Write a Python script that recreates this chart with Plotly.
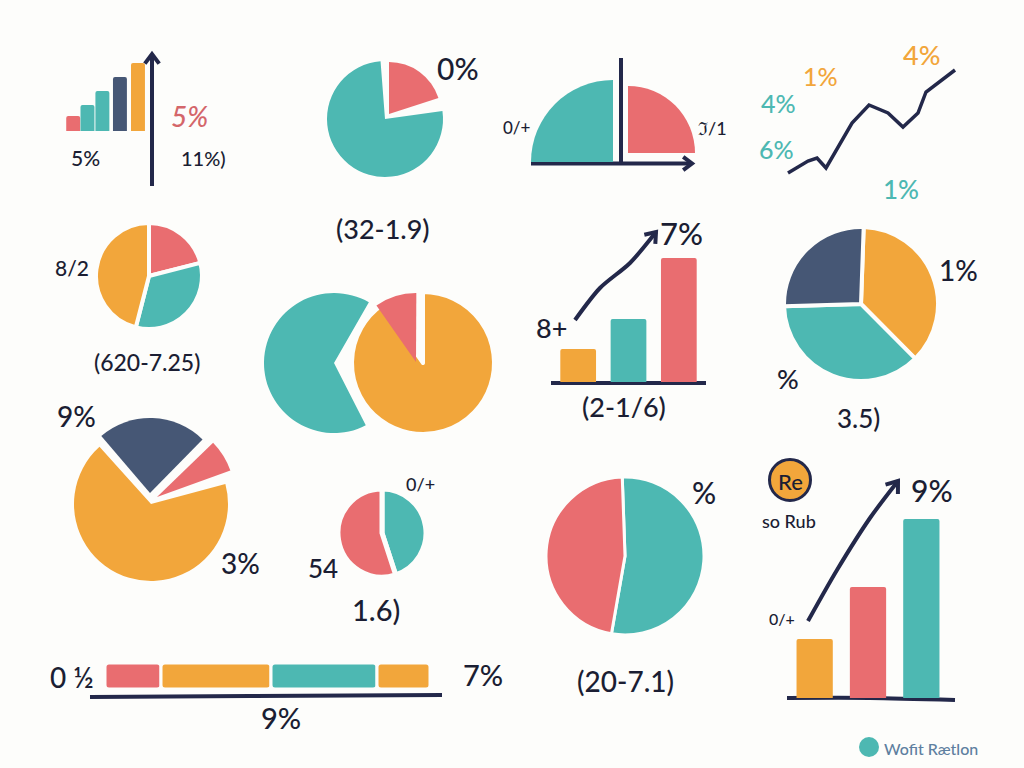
import math
import plotly.graph_objects as go

CORAL, TEAL, ORANGE, NAVY, INK = "#E96D70", "#4DB8B2", "#F2A63B", "#465775", "#23284A"
BG = "#FDFDFB"
TEXT = "#1B1E33"
W, H = 1024, 768

# chart values
BARS_A = [15, 26, 40, 54, 68]
BARS_A_SLOTS = [0, 0.87, 1.78, 2.85, 3.95]
BARS_B = [33, 63, 124]
BARS_C = [59, 111, 179]
STRIP = [56, 110, 106, 53]
LINE_X = [8, 28, 37, 46, 72, 89, 108, 123, 138, 146, 175]
LINE_Y = [7, 19, 22, 12, 57, 75, 67, 53, 67, 88, 110]
PIE_E = [21, 33, 46]
PIE_H = [37, 37, 26]
PIE_J = [45, 55]
PIE_K = [53.3, 46.7]
SHARE_CORAL_B, SHARE_TEAL_B = 20, 76
SHARE_TEAL_C, SHARE_CORAL_C = 25, 25
SHARE_TEAL_F, SHARE_ORANGE_F, SHARE_CORAL_F = 65.8, 90.3, 9.8
SHARE_ORANGE_I, SHARE_NAVY_I, SHARE_CORAL_I = 67.5, 23.6, 6.7

fig = go.Figure()
axis_n = [1]


def fx(px):
    return px / W


def fy(px):
    return 1 - px / H


def new_axes(x0, x1, ytop, ybot, xr=None, yr=None):
    n = axis_n[0]
    axis_n[0] += 1
    sfx = "" if n == 1 else str(n)
    common = dict(visible=False, fixedrange=True, showgrid=False, zeroline=False)
    xa = dict(domain=[fx(x0), fx(x1)], anchor="y" + sfx, **common)
    ya = dict(domain=[fy(ybot), fy(ytop)], anchor="x" + sfx, **common)
    if xr:
        xa["range"] = xr
    if yr:
        ya["range"] = yr
    fig.layout["xaxis" + sfx] = xa
    fig.layout["yaxis" + sfx] = ya
    return "x" + sfx, "y" + sfx


def bars(values, colors, x0, x1, ytop, ybot, gap, slots=None):
    xa, ya = new_axes(x0, x1, ytop, ybot, yr=[0, max(values)])
    xs = slots if slots else list(range(len(values)))
    fig.add_trace(go.Bar(x=xs, y=values, marker=dict(color=colors, cornerradius=2, line_width=0),
                         width=1 - gap, xaxis=xa, yaxis=ya, hoverinfo="skip"))
    fig.layout[xa.replace("x", "xaxis")]["range"] = [-0.5, len(values) - 0.5]


def pie(values, colors, cx, cy, r, rotation=0, border=4):
    fig.add_trace(go.Pie(values=values, marker=dict(colors=colors, line=dict(color=BG, width=border)), sort=False,
                         direction="clockwise", rotation=rotation, textinfo="none", hoverinfo="skip",
                         showlegend=False, domain=dict(x=[fx(cx - r), fx(cx + r)], y=[fy(cy + r), fy(cy - r)])))


def wedge(share, color, cx, cy, r, start, border=0):
    fig.add_trace(go.Pie(values=[share, 100 - share],
                         marker=dict(colors=[color, "rgba(0,0,0,0)"], line=dict(color=BG, width=[border, 0])),
                         sort=False, direction="clockwise", rotation=start, textinfo="none", hoverinfo="skip",
                         showlegend=False, domain=dict(x=[fx(cx - r), fx(cx + r)], y=[fy(cy + r), fy(cy - r)])))


annotations = []


def label(text, x, y, size, color=TEXT):
    annotations.append(dict(text=text, x=fx(x), y=fy(y), xref="paper", yref="paper", showarrow=False,
                            xanchor="center", yanchor="middle",
                            font=dict(family="Lato", size=size, color=color, weight=500)))


# overlay axes in page pixels for arrows and rules
ox, oy = new_axes(0, W, 0, H, xr=[0, W], yr=[H, 0])


def stroke(xs, ys, width=4, head=0):
    fig.add_trace(go.Scatter(x=xs, y=ys, mode="lines", xaxis=ox, yaxis=oy,
                             line=dict(color=INK, width=width, shape="spline", smoothing=0.8), hoverinfo="skip"))
    if head:
        ang = math.atan2(ys[-1] - ys[-2], xs[-1] - xs[-2])
        hx, hy = [], []
        for d in (2.5, 0, -2.5):
            a = ang + d
            k = head if d else 0
            hx.append(xs[-1] + k * math.cos(a))
            hy.append(ys[-1] + k * math.sin(a))
        fig.add_trace(go.Scatter(x=hx, y=hy, mode="lines", xaxis=ox, yaxis=oy,
                                 line=dict(color=INK, width=width), hoverinfo="skip"))


# charts
bars(BARS_A, [CORAL, TEAL, TEAL, NAVY, ORANGE], 65, 147, 63, 131, 0.15, slots=BARS_A_SLOTS)
bars(BARS_B, [ORANGE, TEAL, CORAL], 553, 704, 258, 382, 0.29)
bars(BARS_C, [ORANGE, CORAL, TEAL], 788, 948, 519, 698, 0.32)

xa, ya = new_axes(780, 960, 60, 180, xr=[0, 180], yr=[0, 120])
fig.add_trace(go.Scatter(x=LINE_X, y=LINE_Y, mode="lines", line=dict(color=INK, width=3.5), xaxis=xa, yaxis=ya,
                         hoverinfo="skip"))

xa, ya = new_axes(105, 430, 663, 689, xr=[0, sum(STRIP)], yr=[-0.5, 0.5])
left = 0
for v, c in zip(STRIP, [CORAL, ORANGE, TEAL, ORANGE]):
    fig.add_trace(go.Bar(x=[v], y=[0], base=left, orientation="h", width=1, xaxis=xa, yaxis=ya, hoverinfo="skip",
                         marker=dict(color=c, cornerradius=4, line=dict(color=BG, width=3))))
    left += v

wedge(SHARE_CORAL_B, CORAL, 389, 114, 52, 0)
wedge(SHARE_TEAL_B, TEAL, 385, 119, 58, 82)
wedge(SHARE_TEAL_C, TEAL, 613, 162, 82, 270)
wedge(SHARE_CORAL_C, CORAL, 628, 153, 67, 0)
pie(PIE_E, [CORAL, TEAL, ORANGE], 149, 276, 53)
wedge(SHARE_TEAL_F, TEAL, 334, 363, 70, 153)
wedge(SHARE_ORANGE_F, ORANGE, 423, 363, 71, 0, border=4)
wedge(SHARE_CORAL_F, CORAL, 416, 362, 69, 325)
pie(PIE_H, [ORANGE, TEAL, NAVY], 861, 304, 77, rotation=2)
wedge(SHARE_ORANGE_I, ORANGE, 151, 504, 77, 75)
wedge(SHARE_NAVY_I, NAVY, 150, 493, 75, 319.5)
wedge(SHARE_CORAL_I, CORAL, 157, 497, 78, 46)
pie(PIE_J, [TEAL, CORAL], 382, 533, 44, border=5)
pie(PIE_K, [TEAL, CORAL], 625, 556, 79, rotation=358, border=3)

# rules and arrows
stroke([152, 152], [186, 54], head=12)
stroke([621, 621], [58, 163])
stroke([531, 692], [163.5, 163.5], head=11)
stroke([575, 600, 630, 656], [320, 288, 263, 232], head=12)
stroke([551, 706], [383, 383])
stroke([808, 837, 870, 898], [621, 570, 518, 481], head=13)
stroke([787, 870, 955], [698, 698, 700])
stroke([90, 250, 442], [697, 696, 695])

# badge and logo dots
fig.add_trace(go.Scatter(x=[790], y=[480], mode="markers", xaxis=ox, yaxis=oy, hoverinfo="skip",
                         marker=dict(size=41, color=ORANGE, line=dict(color=INK, width=3))))
fig.add_trace(go.Scatter(x=[869], y=[747], mode="markers", xaxis=ox, yaxis=oy, hoverinfo="skip",
                         marker=dict(size=20, color=TEAL)))

# texts
label("5%", 85, 158, 21)
label("<i>5%</i>", 189, 116, 28, "#D4666A")
label("11%)", 203, 158, 20)
label("0%", 458, 68, 30)
label("(32-1.9)", 383, 229, 27)
label("0/+", 517, 127, 17)
label("ℑ/1", 712, 128, 18)
label("1%", 820, 76, 25, "#F2A63B")
label("4%", 921, 54, 27, "#F2A63B")
label("4%", 778, 103, 25, TEAL)
label("6%", 776, 149, 25, TEAL)
label("1%", 901, 189, 26, TEAL)
label("8/2", 72, 268, 21)
label("(620-7.25)", 147, 362, 23)
label("7%", 681, 233, 31)
label("8+", 551, 327, 27)
label("(2-1/6)", 624, 406, 27)
label("1%", 958, 270, 28)
label("%", 788, 379, 27)
label("3.5)", 858, 418, 26)
label("9%", 76, 416, 28)
label("3%", 240, 563, 28)
label("0/+", 420, 484, 18)
label("54", 323, 568, 26)
label("1.6)", 376, 609, 29)
label("%", 704, 492, 30)
label("(20-7.1)", 625, 681, 28)
label("9%", 932, 490, 30)
label("0/+", 782, 618, 16)
label("Re", 790, 481, 22)
label("so Rub", 789, 521, 18)
label("0 ½", 72, 677, 28)
label("7%", 483, 674, 29)
label("9%", 281, 717, 29)
label("Wofit Rætlon", 931, 748, 16, "#5E7FA0")

fig.update_layout(width=W, height=H, margin=dict(l=0, r=0, t=0, b=0), autosize=False, paper_bgcolor=BG,
                  plot_bgcolor="rgba(0,0,0,0)", showlegend=False, barmode="overlay", annotations=annotations)

fig.write_html("out.html", config=dict(displayModeBar=False),
               post_script="document.body.style.margin='0';document.documentElement.style.background='%s';" % BG)
